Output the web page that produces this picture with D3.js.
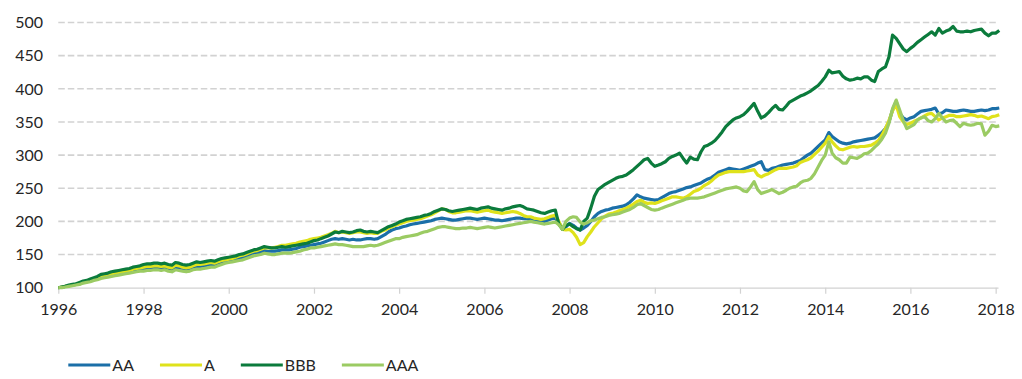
<!DOCTYPE html>
<html>
<head>
<meta charset="utf-8">
<script src="https://cdn.jsdelivr.net/npm/d3@7"></script>
<style>
  html, body { margin: 0; padding: 0; background: #ffffff; }
  svg { display: block; }
  text { font-family: Lato, "Open Sans", sans-serif; font-size: 16px; fill: #262626; }
</style>
</head>
<body>
<svg id="chart" width="1022" height="379"></svg>
<script>
// ---- Data (monthly, Jan 1996 .. Feb 2018) ----
const startMonth = [1996, 0];
const seriesNames = ["AA", "A", "BBB", "AAA"];
const seriesColors = ["#1b6fa8", "#dfe21b", "#0b7b3c", "#9bcb63"];
const yTicks = [100, 150, 200, 250, 300, 350, 400, 450, 500];
const xTickYears = [1996, 1998, 2000, 2002, 2004, 2006, 2008, 2010, 2012, 2014, 2016, 2018];

const aaValues = [
  100,101,102,103,104,105,106,108,109,111,112,114,
  116,117,118,119,120,121,122,123,124,125,126,127,
  128,129,129,130,130,129,130,129,127,131,130,129,
  128,129,131,132,132,133,134,135,134,136,138,140,
  141,142,143,145,146,147,149,151,152,154,156,155,
  155,155,156,157,157,157,158,159,161,162,163,164,
  165,166,167,169,171,173,174,173,174,173,172,173,
  172,172,173,174,174,173,174,177,180,184,187,189,
  190,192,193,195,196,197,198,199,200,201,203,204,
  205,204,203,202,202,203,204,205,205,204,203,204,
  205,204,203,202,202,201,202,203,204,205,205,204,
  204,203,201,200,199,200,202,204,205,198,190,192,
  197,194,190,187,190,194,200,207,212,215,217,218,
  220,221,222,223,225,229,234,240,237,235,234,233,
  232,233,236,239,242,244,245,247,249,251,252,254,
  256,258,261,264,266,270,274,276,278,280,279,278,
  277,279,281,283,285,288,290,278,277,280,281,283,
  285,286,287,288,290,292,296,300,303,308,313,318,
  323,334,328,324,320,318,317,318,320,321,322,323,
  324,325,326,330,334,340,350,368,381,363,356,353,
  356,358,362,366,367,368,369,371,362,364,368,367,
  366,366,367,368,367,366,366,367,368,367,368,370,
  370,371
];
const aValues = [
  100,101,102,103,104,105,107,108,110,112,113,115,
  117,118,119,121,122,123,124,125,126,128,129,130,
  131,132,132,133,133,132,133,131,130,134,133,131,
  130,131,133,135,135,136,137,138,137,139,141,142,
  143,144,146,148,149,151,153,155,156,158,160,160,
  160,161,162,164,164,165,166,167,169,170,171,173,
  174,175,176,178,180,182,185,183,184,183,182,183,
  184,184,183,182,183,182,182,185,187,190,192,194,
  196,198,200,201,202,203,204,206,208,210,213,216,
  219,218,215,213,213,214,215,216,216,215,214,215,
  216,217,215,214,213,212,213,214,215,214,212,209,
  207,207,205,204,203,204,206,208,209,200,188,187,
  188,183,176,165,168,177,184,192,198,204,208,211,
  212,214,216,218,220,223,226,230,232,229,227,228,
  227,229,231,233,235,237,237,236,235,237,241,245,
  247,250,254,257,261,266,270,272,274,275,275,275,
  275,275,276,277,278,270,267,270,272,275,278,280,
  280,280,281,282,284,289,291,293,296,301,306,312,
  318,328,320,314,309,308,310,312,313,312,313,313,
  314,315,318,322,330,340,352,367,376,358,350,346,
  348,351,353,356,359,362,363,358,353,356,358,360,
  360,358,358,359,360,361,360,358,359,357,355,358,
  359,361
];
const bbbValues = [
  100,101,102,104,105,106,108,110,111,113,115,117,
  120,121,122,124,125,126,127,128,129,131,132,133,
  135,136,136,137,137,136,137,135,134,138,137,135,
  134,135,137,139,138,139,140,141,140,142,144,145,
  146,147,148,150,151,153,155,157,158,160,162,161,
  160,160,161,162,161,162,163,164,165,166,167,169,
  171,172,174,176,178,181,184,183,185,184,183,184,
  186,187,185,184,185,184,183,186,189,192,194,196,
  199,201,203,204,205,206,207,209,210,212,215,217,
  219,218,216,215,216,217,218,219,220,219,218,220,
  221,222,220,219,218,217,219,220,222,223,224,222,
  219,218,217,215,213,212,214,216,217,196,188,194,
  196,192,189,187,200,205,220,238,248,252,256,259,
  262,265,267,268,270,274,278,283,288,293,295,288,
  283,285,287,290,295,298,300,303,295,288,297,294,
  293,305,313,315,318,322,328,335,343,348,353,356,
  358,361,366,372,378,366,356,359,364,370,375,369,
  368,374,380,383,386,389,391,394,397,401,405,411,
  418,428,424,425,426,419,415,413,414,416,415,418,
  418,413,411,426,430,433,448,481,476,468,460,456,
  461,465,470,474,478,482,486,481,491,484,487,489,
  494,487,486,486,487,486,488,489,490,484,480,484,
  484,488
];
const aaaValues = [
  100,100,101,102,103,104,105,107,108,109,111,112,
  114,115,116,117,118,119,120,121,122,123,124,125,
  125,126,126,127,127,126,127,125,124,127,126,125,
  124,125,127,128,128,129,130,131,131,133,135,137,
  138,139,140,141,142,144,146,148,149,150,152,151,
  150,150,151,152,152,152,153,154,155,157,158,160,
  160,161,162,163,164,165,166,165,165,164,163,162,
  162,162,162,163,164,163,164,166,168,170,172,174,
  174,176,177,178,179,180,182,184,185,187,189,191,
  192,192,191,190,189,189,190,190,191,190,189,190,
  191,192,191,190,191,192,193,194,195,196,197,198,
  199,200,199,198,197,196,197,198,199,195,188,200,
  205,207,206,199,196,198,201,202,204,206,207,209,
  210,211,212,214,216,218,221,225,227,224,221,218,
  217,218,220,222,224,226,228,230,232,234,235,235,
  235,236,237,239,241,243,245,247,249,250,251,252,
  250,246,245,252,260,248,242,244,246,248,245,242,
  244,247,250,252,253,258,261,262,265,272,282,292,
  300,320,303,296,293,288,288,297,296,295,298,302,
  303,307,312,317,324,333,348,370,383,368,352,340,
  343,346,353,356,358,352,350,355,363,356,350,352,
  353,348,343,348,346,345,346,348,347,330,336,345,
  343,344
];
const seriesValues = [aaValues, aValues, bbbValues, aaaValues];

// ---- Layout ----
const svg = d3.select("#chart");
const plotLeft = 58.3, plotRight = 998, plotTop = 22.5, plotBottom = 287.7;

const x = d3.scaleTime()
  .domain([new Date(1996, 0, 1), new Date(2018, 0, 21)])
  .range([plotLeft, plotRight]);
const y = d3.scaleLinear().domain([100, 500]).range([plotBottom, plotTop]);

const dateOf = i => new Date(startMonth[0], startMonth[1] + i, 1);

// gridlines
svg.append("g")
  .selectAll("line")
  .data(yTicks.filter(v => v > 100))
  .join("line")
  .attr("x1", plotLeft).attr("x2", plotRight)
  .attr("y1", d => y(d)).attr("y2", d => y(d))
  .attr("stroke", "#d2d2d2")
  .attr("stroke-width", 1.6)
  .attr("stroke-dasharray", "6.5,3");

// y labels
svg.append("g")
  .selectAll("text")
  .data(yTicks)
  .join("text")
  .attr("x", 43)
  .attr("y", d => y(d))
  .attr("dy", "0.36em")
  .attr("text-anchor", "end")
  .text(d => d);

// x axis
const xAxis = d3.axisBottom(x)
  .tickValues(xTickYears.map(yr => new Date(yr, 0, 1)))
  .tickFormat(d3.timeFormat("%Y"))
  .tickSize(6)
  .tickSizeOuter(0)
  .tickPadding(10);
const gx = svg.append("g")
  .attr("transform", `translate(0,${plotBottom})`)
  .call(xAxis);
gx.select(".domain").attr("stroke", "#d2d2d2").attr("stroke-width", 1.2);
gx.selectAll(".tick line").attr("stroke", "#d2d2d2").attr("stroke-width", 1.2);
gx.selectAll(".tick text")
  .attr("fill", "#262626")
  .style("font-family", "Lato, 'Open Sans', sans-serif")
  .style("font-size", "16px");

// lines
const line = d3.line()
  .x((d, i) => x(dateOf(i)))
  .y(d => y(d));

svg.append("g")
  .selectAll("path")
  .data(seriesValues)
  .join("path")
  .attr("fill", "none")
  .attr("stroke", (d, i) => seriesColors[i])
  .attr("stroke-width", 3.2)
  .attr("stroke-linejoin", "round")
  .attr("d", d => line(d));

// legend
const legend = svg.append("g");
let lx = 68.3;
const ly = 365;
seriesNames.forEach((name, i) => {
  legend.append("line")
    .attr("x1", lx).attr("x2", lx + 42)
    .attr("y1", ly).attr("y2", ly)
    .attr("stroke", seriesColors[i])
    .attr("stroke-width", 3);
  const t = legend.append("text")
    .attr("x", lx + 44)
    .attr("y", ly)
    .attr("dy", "0.37em")
    .text(name);
  lx = lx + 44 + t.node().getComputedTextLength() + 26;
});
</script>
</body>
</html>
